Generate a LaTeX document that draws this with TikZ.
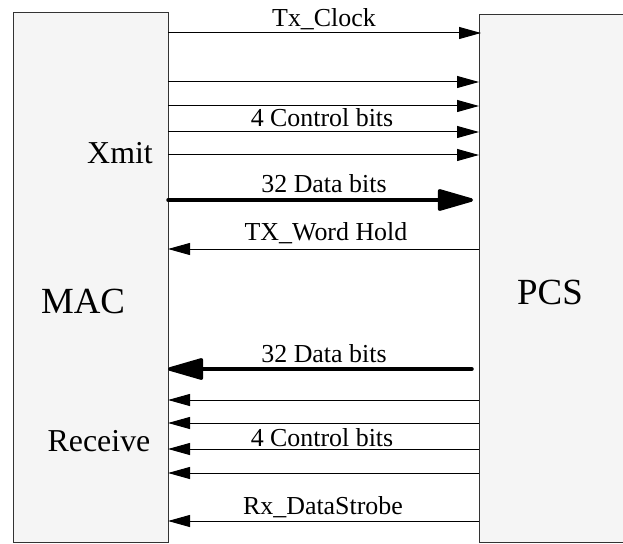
\documentclass[tikz,border=0pt]{standalone}
\usepackage{fontspec}
\setmainfont{Liberation Serif}
\usetikzlibrary{arrows.meta}
\begin{document}
\begin{tikzpicture}[x=1bp,y=-1bp,
  box/.style={draw=black!80, fill=black!4, line width=1bp, inner sep=0pt, outer sep=0pt, anchor=north west},
  thin/.style={line width=1bp, -{Triangle[length=22bp,width=12bp]}},
  thick/.style={line width=3.5bp, line cap=round, -{Triangle[length=40bp,width=22bp,round]}},
  lab/.style={font=\fontsize{26}{26}\selectfont, inner sep=0pt, anchor=base},
  side/.style={font=\fontsize{32}{32}\selectfont, inner sep=0pt, anchor=base},
  big/.style={font=\fontsize{37}{37}\selectfont, inner sep=0pt, anchor=base}]
\useasboundingbox (0,0) rectangle (623,544);
\node[box, minimum width=155bp, minimum height=529bp] (mac) at (13,13) {};
\node[box, minimum width=150bp, minimum height=527bp] (pcs) at (479,15) {};
% rows
\coordinate (t1) at (0,33);
\coordinate (t2) at (0,82);
\coordinate (t3) at (0,106);
\coordinate (t4) at (0,132);
\coordinate (t5) at (0,155);
\coordinate (td) at (0,200);
\coordinate (tw) at (0,249);
\coordinate (rd) at (0,369);
\coordinate (r1) at (0,400);
\coordinate (r2) at (0,423);
\coordinate (r3) at (0,449);
\coordinate (r4) at (0,473);
\coordinate (rs) at (0,521);
\draw[thin] (mac.east |- t1) -- ([xshift=2bp]pcs.west |- t1);
\draw[thin] (mac.east |- t2) -- (pcs.west |- t2);
\draw[thin] (mac.east |- t3) -- (pcs.west |- t3);
\draw[thin] (mac.east |- t4) -- (pcs.west |- t4);
\draw[thin] (mac.east |- t5) -- (pcs.west |- t5);
\draw[thick] (mac.east |- td) -- ([xshift=-6bp]pcs.west |- td);
\draw[thin] (pcs.west |- tw) -- (mac.east |- tw);
\draw[thick] ([xshift=-7bp]pcs.west |- rd) -- (mac.east |- rd);
\draw[thin] (pcs.west |- r1) -- (mac.east |- r1);
\draw[thin] (pcs.west |- r2) -- (mac.east |- r2);
\draw[thin] (pcs.west |- r3) -- (mac.east |- r3);
\draw[thin] (pcs.west |- r4) -- (mac.east |- r4);
\draw[thin] (pcs.west |- rs) -- (mac.east |- rs);
% labels
\node[lab] (l1) at (324,27) {Tx\_Clock};
\node[lab] (l2) at (322,127) {4 Control bits};
\node[lab] (l3) at (324,193) {32 Data bits};
\node[lab] (l4) at (326,241) {TX\_Word Hold};
\node[lab] (l5) at (324,362) {32 Data bits};
\node[lab] (l6) at (322,446) {4 Control bits};
\node[lab] (l7) at (323,514) {Rx\_DataStrobe};
\node[side] (xm) at (120,164) {Xmit};
\node[side] (rc) at (99,451) {Receive};
\node[big] (ml) at (83,313) {MAC};
\node[big] (pl) at (550,304) {PCS};
\end{tikzpicture}
\end{document}
